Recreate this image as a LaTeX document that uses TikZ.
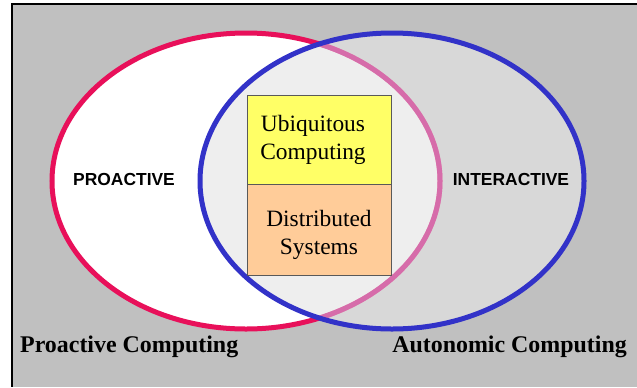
\documentclass[tikz,border=0pt]{standalone}
\usepackage{fontspec}
\setmainfont{Liberation Serif}
\newfontfamily\arialfont{Liberation Sans}
\usetikzlibrary{positioning}
\definecolor{bggray}{HTML}{C0C0C0}
\definecolor{proared}{HTML}{E8105A}
\definecolor{propink}{HTML}{D66CAA}
\definecolor{autoblue}{HTML}{3232C8}
\definecolor{ubiyellow}{HTML}{FFFF66}
\definecolor{distorange}{HTML}{FFCC99}
\tikzset{
  setline/.style={line width=5bp},
  setlabel/.style={font=\arialfont\bfseries\fontsize{17.5}{20}\selectfont},
  layerbox/.style={draw=black!65, line width=0.8bp, minimum width=144bp, outer sep=0pt},
  boxlabel/.style={font=\fontsize{23.5}{28}\selectfont, align=center},
  fieldlabel/.style={font=\bfseries\fontsize{24}{28}\selectfont, inner sep=0pt},
}
\begin{document}
\begin{tikzpicture}[x=1bp, y=-1bp]
  \useasboundingbox (0,0) rectangle (637,387);
  \fill[white] (0,0) rectangle (637,387);
  \fill[bggray] (12,4) rectangle (637,387);
  \draw[line width=1.5bp] (637,4) -- (12,4) -- (12,387);
  % the two sets
  \draw[setline, proared, fill=white] (246,181) ellipse [x radius=194bp, y radius=148bp];
  \fill[gray!20, opacity=0.65] (392,181) ellipse [x radius=192bp, y radius=148bp];
  \begin{scope}
    \clip (392,181) ellipse [x radius=192bp, y radius=148bp];
    \draw[setline, propink] (246,181) ellipse [x radius=194bp, y radius=148bp];
  \end{scope}
  \draw[setline, autoblue] (392,181) ellipse [x radius=192bp, y radius=148bp];
  \node[setlabel] (proactive) at (124,179) {PROACTIVE};
  \node[setlabel] (interactive) at (511,179) {INTERACTIVE};
  % layers in the middle
  \node[layerbox, fill=ubiyellow, minimum height=89bp] (ubibox) at (319,139.5) {};
  \node[layerbox, fill=distorange, minimum height=91bp, below=0pt of ubibox] (distbox) {};
  \node[boxlabel, xshift=-6bp] (ubitext) at (ubibox.center) {Ubiquitous\\Computing};
  \node[boxlabel, yshift=-5bp] (disttext) at (distbox.center) {Distributed\\Systems};
  % fields
  \node[fieldlabel, anchor=base west] (proacomp) at (20,352) {Proactive Computing};
  \node[fieldlabel, anchor=base east] (autocomp) at (627,352) {Autonomic Computing};
\end{tikzpicture}
\end{document}
